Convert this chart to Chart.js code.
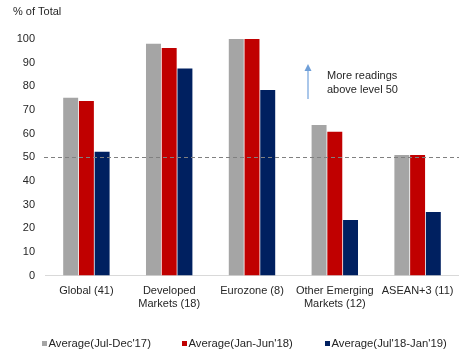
<!DOCTYPE html>
<html>
<head>
<meta charset="utf-8">
<script src="https://cdn.jsdelivr.net/npm/chart.js@4"></script>
<style>
  html, body { margin: 0; padding: 0; background: #fff; }
  #wrap { width: 459px; height: 352px; position: relative; }
</style>
</head>
<body>
<div id="wrap"><canvas id="chart"></canvas></div>
<script>
const categories = [
  'Global (41)',
  ['Developed', 'Markets (18)'],
  'Eurozone (8)',
  ['Other Emerging', 'Markets (12)'],
  'ASEAN+3 (11)'
];
const seriesNames = ['Average(Jul-Dec\'17)', 'Average(Jan-Jun\'18)', 'Average(Jul\'18-Jan\'19)'];
const julDec17 = [75.2, 98, 100, 63.6, 51];
const janJun18 = [73.8, 96.2, 100, 60.8, 51];
const jul18Jan19 = [52.3, 87.5, 78.4, 23.5, 26.9];
const yTicks = [0, 10, 20, 30, 40, 50, 60, 70, 80, 90, 100];
const threshold = 50;

const colors = ['#a5a5a5', '#c00000', '#002060'];
const font = { family: 'Liberation Sans, Arial, sans-serif', size: 11 };
const legendX = [42, 182, 325];

// dashed 50 line, arrow and note, axis title and the legend
const extras = {
  id: 'extras',
  afterDatasetsDraw(chart) {
    const { ctx, chartArea, scales } = chart;
    const y = scales.y.getPixelForValue(threshold);
    ctx.save();
    ctx.strokeStyle = '#808080';
    ctx.lineWidth = 1;
    ctx.setLineDash([4, 3]);
    ctx.beginPath();
    ctx.moveTo(chartArea.left - 1, Math.round(y) + 0.5);
    ctx.lineTo(459, Math.round(y) + 0.5);
    ctx.stroke();
    ctx.setLineDash([]);

    // arrow
    ctx.strokeStyle = '#8eb4e3';
    ctx.fillStyle = '#6f9fd8';
    ctx.lineWidth = 1.5;
    ctx.beginPath();
    ctx.moveTo(308, 99);
    ctx.lineTo(308, 70);
    ctx.stroke();
    ctx.beginPath();
    ctx.moveTo(308, 64);
    ctx.lineTo(304.5, 71);
    ctx.lineTo(311.5, 71);
    ctx.closePath();
    ctx.fill();

    ctx.fillStyle = '#262626';
    ctx.font = '11px ' + font.family;
    ctx.textBaseline = 'middle';
    ctx.textAlign = 'left';
    ctx.fillText('More readings', 327, 76);
    ctx.fillText('above level 50', 327, 90);
    ctx.fillText('% of Total', 13, 12);

    // legend
    ctx.font = '11.3px ' + font.family;
    chart.data.datasets.forEach((ds, i) => {
      ctx.fillStyle = ds.backgroundColor;
      ctx.fillRect(legendX[i], 341, 5, 5);
      ctx.fillStyle = '#262626';
      ctx.fillText(ds.label, legendX[i] + 6.5, 343.5);
    });
    ctx.restore();
  }
};

new Chart(document.getElementById('chart'), {
  type: 'bar',
  data: {
    labels: categories,
    datasets: [julDec17, janJun18, jul18Jan19].map((d, i) => ({
      label: seriesNames[i],
      data: d,
      backgroundColor: colors[i],
      categoryPercentage: 0.57,
      barPercentage: 0.95
    }))
  },
  options: {
    responsive: true,
    maintainAspectRatio: false,
    animation: false,
    layout: { padding: { top: 39, left: 0, right: -2, bottom: 40 } },
    scales: {
      x: {
        grid: { display: false },
        border: { color: '#d9d9d9' },
        ticks: { color: '#262626', font, maxRotation: 0, autoSkip: false, padding: 1 }
      },
      y: {
        min: 0,
        max: 100,
        afterBuildTicks: axis => { axis.ticks = yTicks.map(v => ({ value: v })); },
        grid: { display: false },
        border: { display: false },
        ticks: { color: '#262626', font, padding: 2 },
        afterFit: axis => { axis.width = 45; }
      }
    },
    plugins: {
      legend: { display: false },
      tooltip: { enabled: false }
    }
  },
  plugins: [extras]
});
</script>
</body>
</html>
